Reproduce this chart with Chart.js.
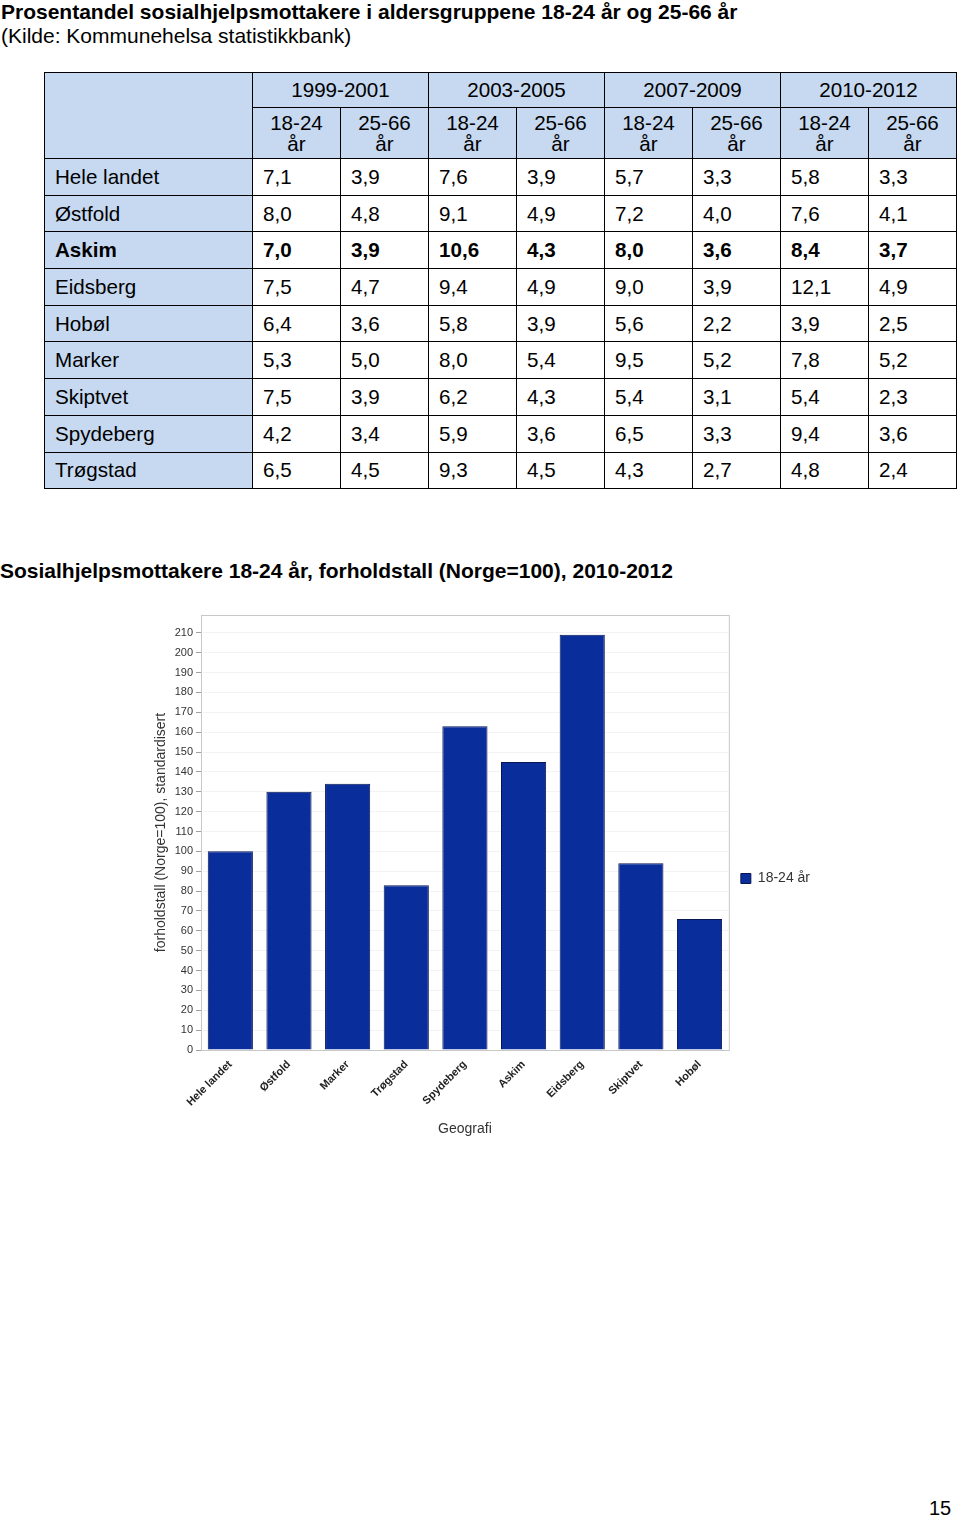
<!DOCTYPE html>
<html>
<head>
<meta charset="utf-8">
<script src="https://cdn.jsdelivr.net/npm/chart.js@4.4.1/dist/chart.umd.min.js"></script>
<style>
  body { margin: 0; background: #fff; font-family: "Liberation Sans", Arial, sans-serif; width: 960px; height: 1517px; position: relative; overflow: hidden; }
  .tittel { position: absolute; left: 1px; top: 0; font-size: 21px; font-weight: bold; line-height: 24px; color: #000; }
  .kilde { position: absolute; left: 1px; top: 24px; font-size: 21px; line-height: 24px; color: #000; }
  table { position: absolute; left: 44px; top: 72px; border-collapse: collapse; font-size: 20.6px; color: #000; }
  td { border: 1.5px solid #000; padding: 0 0 0 10px; height: 35.7px; width: 77px; line-height: 22px; }
  td.navn { width: 197px; background: #c6d9f1; }
  tr.hode td { background: #c6d9f1; text-align: center; padding: 0; }
  tr.hode1 td { height: 34px; }
  tr.hode2 td { height: 50px; line-height: 21px; }
  tr.uthevet td { font-weight: bold; }
  .graf-tittel { position: absolute; left: 0; top: 559px; font-family: "Liberation Sans Narrow", "Liberation Sans", Arial, sans-serif; font-size: 21px; font-weight: bold; color: #000; }
  #boks { position: absolute; left: 153px; top: 605px; width: 677px; height: 545px; }
  .side { position: absolute; left: 929px; top: 1497px; font-size: 20px; }
</style>
</head>
<body>
<div class="tittel">Prosentandel sosialhjelpsmottakere i aldersgruppene 18-24 år og 25-66 år</div>
<div class="kilde">(Kilde: Kommunehelsa statistikkbank)</div>
<table id="tabell"></table>
<div class="graf-tittel">Sosialhjelpsmottakere 18-24 år, forholdstall (Norge=100), 2010-2012</div>
<div id="boks"><canvas id="graf"></canvas></div>
<div class="side">15</div>
<script>
// Tabell: prosent sosialhjelpsmottakere
const perioder = ['1999-2001', '2003-2005', '2007-2009', '2010-2012'];
const aldersgrupper = ['18-24 år', '25-66 år'];
const kommuner = ['Hele landet', 'Østfold', 'Askim', 'Eidsberg', 'Hobøl', 'Marker', 'Skiptvet', 'Spydeberg', 'Trøgstad'];
const verdier = [
  ['7,1', '3,9', '7,6', '3,9', '5,7', '3,3', '5,8', '3,3'],
  ['8,0', '4,8', '9,1', '4,9', '7,2', '4,0', '7,6', '4,1'],
  ['7,0', '3,9', '10,6', '4,3', '8,0', '3,6', '8,4', '3,7'],
  ['7,5', '4,7', '9,4', '4,9', '9,0', '3,9', '12,1', '4,9'],
  ['6,4', '3,6', '5,8', '3,9', '5,6', '2,2', '3,9', '2,5'],
  ['5,3', '5,0', '8,0', '5,4', '9,5', '5,2', '7,8', '5,2'],
  ['7,5', '3,9', '6,2', '4,3', '5,4', '3,1', '5,4', '2,3'],
  ['4,2', '3,4', '5,9', '3,6', '6,5', '3,3', '9,4', '3,6'],
  ['6,5', '4,5', '9,3', '4,5', '4,3', '2,7', '4,8', '2,4'],
];

// Diagram: forholdstall 18-24 år, 2010-2012
const geografi = ['Hele landet', 'Østfold', 'Marker', 'Trøgstad', 'Spydeberg', 'Askim', 'Eidsberg', 'Skiptvet', 'Hobøl'];
const forholdstall = [100, 130, 134, 83, 163, 145, 209, 94, 66];

// Bygger tabellen
const tabell = document.getElementById('tabell');
let html = '<tr class="hode hode1"><td class="navn" rowspan="2"></td>';
perioder.forEach(p => { html += `<td colspan="2">${p}</td>`; });
html += '</tr><tr class="hode hode2">';
perioder.forEach(() => aldersgrupper.forEach(a => {
  const [tall, ar] = a.split(' ');
  html += `<td>${tall}<br>${ar}</td>`;
}));
html += '</tr>';
kommuner.forEach((k, i) => {
  html += `<tr${k === 'Askim' ? ' class="uthevet"' : ''}><td class="navn">${k}</td>`;
  verdier[i].forEach(v => { html += `<td>${v}</td>`; });
  html += '</tr>';
});
tabell.innerHTML = html;

// Ramme rundt plotteområdet
const ramme = {
  id: 'ramme',
  afterDatasetsDraw(chart) {
    const { ctx, chartArea: a } = chart;
    ctx.save();
    ctx.strokeStyle = '#c8c8c8';
    ctx.lineWidth = 1;
    ctx.strokeRect(a.left + 0.5, a.top + 0.5, a.right - a.left, a.bottom - a.top);
    ctx.restore();
  },
};

new Chart(document.getElementById('graf'), {
  type: 'bar',
  data: {
    labels: geografi,
    datasets: [{
      label: '18-24 år',
      data: forholdstall,
      backgroundColor: '#0a2d9c',
      borderColor: '#0a1650',
      borderWidth: 1,
      categoryPercentage: 1,
      barPercentage: 0.77,
    }],
  },
  options: {
    responsive: true,
    maintainAspectRatio: false,
    animation: false,
    layout: { padding: { top: 10, right: 10, bottom: 8 } },
    plugins: {
      legend: {
        position: 'right',
        labels: {
          boxWidth: 10, boxHeight: 10, padding: 12,
          color: '#333',
          font: { family: 'Liberation Sans', size: 14 },
        },
      },
      tooltip: { enabled: false },
    },
    scales: {
      x: {
        grid: { display: false },
        border: { color: '#a0a0a0' },
        ticks: {
          maxRotation: 45, minRotation: 45, padding: 0,
          color: '#222',
          font: { family: 'Liberation Sans', size: 11, weight: 'bold' },
        },
        title: {
          display: true, text: 'Geografi', color: '#333',
          font: { family: 'Liberation Sans', size: 14 },
          padding: { top: 6 },
        },
        afterFit(s) { s.height = 92; },
      },
      y: {
        min: 0, max: 219,
        grid: { color: '#f3f3f3', tickColor: '#a0a0a0', tickLength: 5 },
        border: { color: '#a0a0a0' },
        ticks: {
          stepSize: 10, color: '#333',
          font: { family: 'Liberation Sans', size: 11 },
        },
        afterBuildTicks(s) { s.ticks = s.ticks.filter(t => t.value % 10 === 0); },
        title: {
          display: true, text: 'forholdstall (Norge=100), standardisert', color: '#333',
          font: { family: 'Liberation Sans', size: 14 },
          padding: { top: 0, bottom: 2 },
        },
        afterFit(s) { s.width = 48; },
      },
    },
  },
  plugins: [ramme],
});
</script>
</body>
</html>
